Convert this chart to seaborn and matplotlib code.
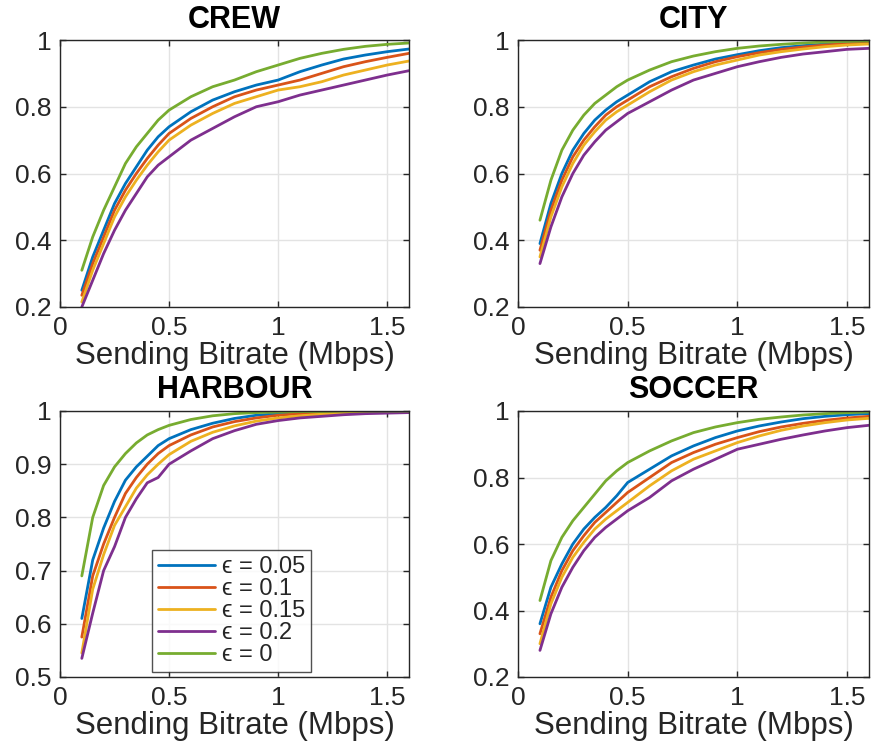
import matplotlib
matplotlib.use("Agg")
import matplotlib.pyplot as plt
import seaborn as sns
import pandas as pd
from matplotlib.ticker import FuncFormatter

bitrate = [0.1, 0.15, 0.2, 0.25, 0.3, 0.35, 0.4, 0.45, 0.5, 0.6, 0.7, 0.8,
           0.9, 1.0, 1.1, 1.2, 1.3, 1.4, 1.5, 1.6]
series_labels = ["\u03f5 = 0.05", "\u03f5 = 0.1", "\u03f5 = 0.15",
                 "\u03f5 = 0.2", "\u03f5 = 0"]
titles = ["CREW", "CITY", "HARBOUR", "SOCCER"]

crew_e005 = [0.25, 0.35, 0.43, 0.51, 0.57, 0.62, 0.67, 0.71, 0.74, 0.785, 0.82, 0.845, 0.865, 0.88, 0.905, 0.925, 0.943, 0.955, 0.965, 0.973]
crew_e010 = [0.235, 0.33, 0.41, 0.49, 0.55, 0.60, 0.645, 0.685, 0.72, 0.765, 0.80, 0.83, 0.85, 0.865, 0.88, 0.90, 0.92, 0.935, 0.948, 0.96]
crew_e015 = [0.215, 0.31, 0.39, 0.47, 0.53, 0.58, 0.625, 0.665, 0.70, 0.745, 0.78, 0.81, 0.83, 0.85, 0.86, 0.875, 0.895, 0.91, 0.925, 0.937]
crew_e020 = [0.20, 0.28, 0.36, 0.43, 0.49, 0.54, 0.59, 0.625, 0.65, 0.70, 0.735, 0.77, 0.80, 0.815, 0.835, 0.85, 0.865, 0.88, 0.895, 0.908]
crew_e000 = [0.31, 0.41, 0.49, 0.56, 0.63, 0.68, 0.72, 0.76, 0.79, 0.83, 0.86, 0.88, 0.905, 0.925, 0.945, 0.96, 0.972, 0.981, 0.987, 0.991]

city_e005 = [0.39, 0.51, 0.60, 0.67, 0.72, 0.76, 0.79, 0.815, 0.835, 0.875, 0.905, 0.925, 0.943, 0.956, 0.968, 0.977, 0.983, 0.988, 0.991, 0.993]
city_e010 = [0.37, 0.49, 0.58, 0.65, 0.70, 0.74, 0.775, 0.80, 0.82, 0.86, 0.89, 0.915, 0.935, 0.95, 0.962, 0.972, 0.979, 0.985, 0.989, 0.991]
city_e015 = [0.35, 0.47, 0.56, 0.63, 0.685, 0.725, 0.76, 0.785, 0.805, 0.845, 0.88, 0.905, 0.925, 0.94, 0.955, 0.965, 0.973, 0.98, 0.985, 0.988]
city_e020 = [0.33, 0.44, 0.53, 0.60, 0.655, 0.695, 0.73, 0.755, 0.78, 0.815, 0.85, 0.88, 0.90, 0.92, 0.935, 0.948, 0.958, 0.965, 0.972, 0.975]
city_e000 = [0.46, 0.58, 0.67, 0.73, 0.775, 0.81, 0.835, 0.86, 0.88, 0.91, 0.935, 0.952, 0.965, 0.975, 0.982, 0.987, 0.991, 0.994, 0.996, 0.997]

harbour_e005 = [0.61, 0.72, 0.78, 0.83, 0.87, 0.895, 0.915, 0.935, 0.948, 0.965, 0.977, 0.986, 0.992, 0.995, 0.997, 0.998, 0.999, 0.999, 1.0, 1.0]
harbour_e010 = [0.575, 0.69, 0.75, 0.80, 0.845, 0.875, 0.90, 0.92, 0.935, 0.955, 0.97, 0.98, 0.987, 0.992, 0.995, 0.997, 0.998, 0.999, 0.999, 1.0]
harbour_e015 = [0.545, 0.665, 0.73, 0.785, 0.82, 0.855, 0.88, 0.90, 0.918, 0.943, 0.96, 0.972, 0.981, 0.987, 0.991, 0.994, 0.996, 0.998, 0.999, 0.999]
harbour_e020 = [0.535, 0.62, 0.70, 0.745, 0.80, 0.835, 0.865, 0.875, 0.90, 0.925, 0.948, 0.963, 0.975, 0.982, 0.987, 0.99, 0.993, 0.995, 0.996, 0.997]
harbour_e000 = [0.69, 0.80, 0.86, 0.895, 0.92, 0.94, 0.955, 0.965, 0.973, 0.984, 0.991, 0.995, 0.997, 0.998, 0.999, 0.999, 1.0, 1.0, 1.0, 1.0]

soccer_e005 = [0.36, 0.47, 0.54, 0.60, 0.645, 0.68, 0.71, 0.745, 0.785, 0.825, 0.865, 0.895, 0.92, 0.94, 0.955, 0.967, 0.977, 0.984, 0.989, 0.992]
soccer_e010 = [0.33, 0.44, 0.52, 0.58, 0.625, 0.665, 0.695, 0.725, 0.755, 0.80, 0.845, 0.875, 0.90, 0.92, 0.938, 0.952, 0.963, 0.972, 0.979, 0.984]
soccer_e015 = [0.30, 0.42, 0.50, 0.56, 0.605, 0.645, 0.675, 0.70, 0.725, 0.775, 0.82, 0.855, 0.88, 0.905, 0.925, 0.942, 0.955, 0.965, 0.973, 0.978]
soccer_e020 = [0.28, 0.39, 0.47, 0.53, 0.58, 0.62, 0.65, 0.675, 0.70, 0.74, 0.79, 0.825, 0.855, 0.885, 0.90, 0.915, 0.928, 0.94, 0.95, 0.957]
soccer_e000 = [0.43, 0.55, 0.62, 0.67, 0.71, 0.75, 0.79, 0.82, 0.845, 0.88, 0.91, 0.935, 0.952, 0.965, 0.975, 0.982, 0.988, 0.992, 0.995, 0.997]

panels = [
    [crew_e005, crew_e010, crew_e015, crew_e020, crew_e000],
    [city_e005, city_e010, city_e015, city_e020, city_e000],
    [harbour_e005, harbour_e010, harbour_e015, harbour_e020, harbour_e000],
    [soccer_e005, soccer_e010, soccer_e015, soccer_e020, soccer_e000],
]
ylims = [(0.2, 1.0), (0.2, 1.0), (0.5, 1.0), (0.2, 1.0)]
yticks = [[0.2, 0.4, 0.6, 0.8, 1.0], [0.2, 0.4, 0.6, 0.8, 1.0],
          [0.5, 0.6, 0.7, 0.8, 0.9, 1.0], [0.2, 0.4, 0.6, 0.8, 1.0]]
xticks = [0, 0.5, 1.0, 1.5]

colors = ["#0072BD", "#D95319", "#EDB120", "#7E2F8E", "#77AC30"]

sns.set_theme(style="white")
plt.rcParams["font.family"] = ["Liberation Sans", "DejaVu Sans"]

fig = plt.figure(figsize=(8.71, 7.51), dpi=100)
positions = [
    [60 / 871, 1 - 307 / 751, 349 / 871, 267 / 751],
    [518 / 871, 1 - 307 / 751, 351 / 871, 267 / 751],
    [60 / 871, 1 - 677 / 751, 349 / 871, 266 / 751],
    [518 / 871, 1 - 677 / 751, 351 / 871, 266 / 751],
]
fmt = FuncFormatter(lambda v, p: f"{v:g}")
tick_color = "#262626"

for i in range(4):
    ax = fig.add_axes(positions[i])
    rows = []
    for label, vals in zip(series_labels, panels[i]):
        for x, y in zip(bitrate, vals):
            rows.append({"x": x, "y": y, "eps": label})
    df = pd.DataFrame(rows)
    sns.lineplot(data=df, x="x", y="y", hue="eps", hue_order=series_labels,
                 palette=colors, linewidth=2.0, ax=ax, legend=(i == 2))
    ax.set_xlim(0, 1.6)
    ax.set_ylim(*ylims[i])
    ax.set_xticks(xticks)
    ax.set_yticks(yticks[i])
    ax.xaxis.set_major_formatter(fmt)
    ax.yaxis.set_major_formatter(fmt)
    ax.grid(True, color="#e3e3e3", linewidth=1.0)
    ax.set_axisbelow(True)
    ax.tick_params(direction="in", length=4, width=1, colors=tick_color,
                   labelsize=19, top=True, right=True, bottom=True, left=True,
                   labelcolor=tick_color)
    ax.tick_params(axis="x", pad=6.5)
    ax.tick_params(axis="y", pad=6)
    for s in ax.spines.values():
        s.set_color(tick_color)
        s.set_linewidth(1.0)
    ax.set_xlabel("Sending Bitrate (Mbps)", fontsize=22.5, color=tick_color, labelpad=1)
    ax.set_ylabel("")
    ax.set_title(titles[i], fontsize=22, fontweight="bold", color="black", pad=9)
    if i == 2:
        leg = ax.legend(loc="lower left", bbox_to_anchor=(0.264, 0.019),
                        borderaxespad=0, fontsize=17, frameon=True, fancybox=False,
                        edgecolor=tick_color, handlelength=2.4, handletextpad=0.3,
                        labelspacing=0.0, borderpad=0.25)
        leg.get_frame().set_linewidth(1.0)
        for line in leg.get_lines():
            line.set_linewidth(2.0)

fig.savefig("out.png", dpi=100)
